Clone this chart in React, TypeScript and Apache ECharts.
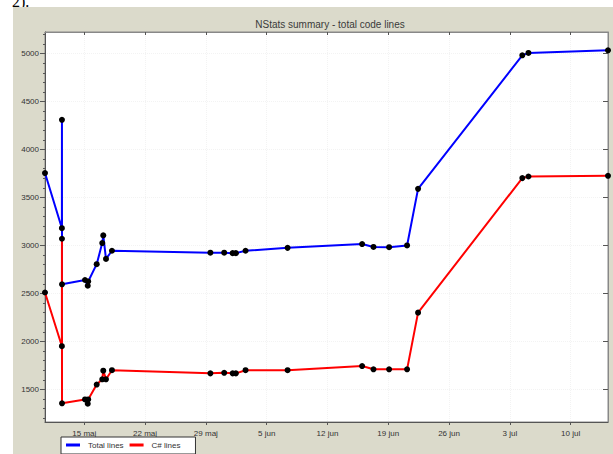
import React, { useEffect, useRef } from "react";
import * as echarts from "echarts";

const title = "NStats summary - total code lines";
const seriesNames = ["Total lines", "C# lines"];

// sample times (UTC, 2005)
const dates = [
  "2005-05-10T11:30", "2005-05-12T10:10", "2005-05-12T10:20", "2005-05-12T10:30",
  "2005-05-15T02:00", "2005-05-15T09:40", "2005-05-15T10:50", "2005-05-16T10:20",
  "2005-05-17T01:40", "2005-05-17T04:30", "2005-05-17T12:00", "2005-05-18T04:30",
  "2005-05-29T12:30", "2005-05-31T02:40", "2005-06-01T02:00", "2005-06-01T11:00",
  "2005-06-02T13:40", "2005-06-07T09:50", "2005-06-15T23:45", "2005-06-17T07:10",
  "2005-06-19T02:20", "2005-06-21T04:00", "2005-06-22T10:20", "2005-07-04T10:20",
  "2005-07-05T03:20", "2005-07-14T07:10",
];
const totalLines = [
  3755, 3180, 4310, 2595, 2640, 2580, 2625, 2805, 3025, 3105, 2860, 2945, 2925,
  2925, 2920, 2920, 2945, 2975, 3015, 2985, 2982, 3000, 3590, 4982, 5007, 5034,
];
const csLines = [
  2510, 1950, 3070, 1355, 1395, 1350, 1395, 1550, 1605, 1695, 1605, 1700, 1667,
  1673, 1667, 1667, 1700, 1700, 1743, 1709, 1709, 1709, 2300, 3702, 3719, 3726,
];

const weekTickDates = [
  "2005-05-15", "2005-05-22", "2005-05-29", "2005-06-05", "2005-06-12",
  "2005-06-19", "2005-06-26", "2005-07-03", "2005-07-10",
];
const monthNames = ["jan", "feb", "mar", "apr", "maj", "jun", "jul", "aug", "sep", "okt", "nov", "dec"];
const yMajorTicks = [1500, 2000, 2500, 3000, 3500, 4000, 4500, 5000];
const yMinorTicks = [
  1200, 1300, 1400, 1500, 1600, 1700, 1800, 1900, 2000, 2100, 2200, 2300, 2400,
  2500, 2600, 2700, 2800, 2900, 3000, 3100, 3200, 3300, 3400, 3500, 3600, 3700,
  3800, 3900, 4000, 4100, 4200, 4300, 4400, 4500, 4600, 4700, 4800, 4900, 5000,
  5100, 5200,
];
const yMin = 1160;
const yMax = 5225;

const toMs = (s: string) => Date.parse(s.length > 10 ? s + ":00Z" : s + "T00:00:00Z");

export default function App() {
  const ref = useRef<HTMLDivElement>(null);
  useEffect(() => {
    if (!ref.current) return;
    const chart = echarts.init(ref.current, undefined, { renderer: "svg" });
    const times = dates.map(toMs);
    const weekTicks = weekTickDates.map(toMs);
    const xMin = times[0];
    const xMax = times[times.length - 1];
    const fmt = (v: number) => {
      const d = new Date(v);
      return d.getUTCDate() + " " + monthNames[d.getUTCMonth()];
    };
    const font = "Liberation Sans";
    const axisColor = "#555";
    chart.setOption({
      animation: false,
      textStyle: { fontFamily: font },
      graphic: [
        {
          type: "text",
          z: -20,
          style: { text: "2).", x: 12, y: 9.5, verticalAlign: "bottom", fontSize: 16, fontFamily: "Liberation Serif", fill: "#000" },
        },
        {
          type: "rect",
          z: -10,
          shape: { x: 13, y: 7, width: 620, height: 460 },
          style: { fill: "#dbdacb" },
          silent: true,
        },
      ],
      title: {
        text: title,
        left: 325,
        textAlign: "center",
        top: 14,
        textStyle: { fontSize: 10, fontWeight: "normal", color: "#3a3a3a", fontFamily: font },
      },
      grid: {
        left: 45, top: 32, width: 563, height: 390,
        show: true, backgroundColor: "#fff", borderColor: "#888", borderWidth: 1,
      },
      legend: {
        left: 61, top: 437,
        orient: "horizontal",
        icon: "rect",
        itemWidth: 14, itemHeight: 3, itemGap: 6,
        backgroundColor: "#fff", borderColor: "#333", borderWidth: 1,
        padding: [4, 15, 5, 5],
        textStyle: { fontSize: 8, color: "#333", fontFamily: font, padding: [0, 0, 0, 3] },
        data: [
          { name: seriesNames[0], itemStyle: { color: "#0000ff" } },
          { name: seriesNames[1], itemStyle: { color: "#ff0000" } },
        ],
      },
      xAxis: [
        {
          type: "value", min: xMin, max: xMax, position: "bottom",
          axisLine: { show: true, lineStyle: { color: axisColor } },
          axisTick: { show: true, customValues: weekTicks, length: 3, lineStyle: { color: axisColor } },
          axisLabel: { customValues: weekTicks, formatter: fmt, fontSize: 8, color: "#333", margin: 7, fontFamily: font },
          splitLine: { show: true, lineStyle: { color: "#f3f3f3", type: "dotted" } },
        },
        {
          type: "value", min: xMin, max: xMax, position: "top",
          axisLine: { show: true, lineStyle: { color: "#888" } },
          axisTick: { show: true, inside: true, customValues: weekTicks, length: 3, lineStyle: { color: axisColor } },
          axisLabel: { show: false },
          splitLine: { show: false },
        },
      ],
      yAxis: [
        {
          type: "value", min: yMin, max: yMax, position: "left",
          axisLine: { show: true, lineStyle: { color: axisColor } },
          axisTick: { show: true, customValues: yMajorTicks, length: 5, lineStyle: { color: axisColor } },
          axisLabel: { customValues: yMajorTicks, formatter: (v: number) => String(v), fontSize: 8, color: "#333", margin: 6, fontFamily: font },
          splitLine: { show: true, lineStyle: { color: "#f3f3f3", type: "dotted" } },
        },
        {
          type: "value", min: yMin, max: yMax, position: "left", offset: 0,
          axisLine: { show: false },
          axisTick: { show: true, customValues: yMinorTicks, length: 2, lineStyle: { color: axisColor } },
          axisLabel: { show: false },
          splitLine: { show: false },
        },
        {
          type: "value", min: yMin, max: yMax, position: "right", offset: 0,
          axisLine: { show: true, lineStyle: { color: "#888" } },
          axisTick: { show: true, inside: true, customValues: yMajorTicks, length: 5, lineStyle: { color: axisColor } },
          axisLabel: { show: false },
          splitLine: { show: false },
        },
      ],
      series: [
        {
          name: seriesNames[0], type: "line", xAxisIndex: 0, yAxisIndex: 0,
          data: times.map((t, i) => [t, totalLines[i]]),
          symbol: "circle", symbolSize: 6, showAllSymbol: true,
          itemStyle: { color: "#000" },
          lineStyle: { color: "#0000ff", width: 2 },
          z: 3,
        },
        {
          name: seriesNames[1], type: "line", xAxisIndex: 0, yAxisIndex: 0,
          data: times.map((t, i) => [t, csLines[i]]),
          symbol: "circle", symbolSize: 6, showAllSymbol: true,
          itemStyle: { color: "#000" },
          lineStyle: { color: "#ff0000", width: 2 },
          z: 3,
        },
      ],
    });
    return () => chart.dispose();
  }, []);
  return <div ref={ref} style={{ position: "absolute", left: 0, top: 0, width: 613, height: 454 }} />;
}
